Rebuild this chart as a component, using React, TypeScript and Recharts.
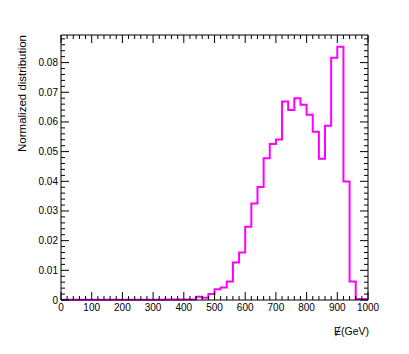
import React from 'react';
import { ComposedChart, Line, XAxis, YAxis } from 'recharts';

// bin low edges (GeV), 20 GeV wide
const binEdges = [
  0, 20, 40, 60, 80, 100, 120, 140, 160, 180,
  200, 220, 240, 260, 280, 300, 320, 340, 360, 380,
  400, 420, 440, 460, 480, 500, 520, 540, 560, 580,
  600, 620, 640, 660, 680, 700, 720, 740, 760, 780,
  800, 820, 840, 860, 880, 900, 920, 940, 960, 980, 1000,
];

// normalized bin contents (last entry repeats the final bin to close the step)
const binValues = [
  0.00005, 0.00005, 0.00005, 0.00005, 0.00005, 0.00005, 0.00005, 0.00005, 0.00005, 0.00005,
  0.00005, 0.00005, 0.00005, 0.00005, 0.00005, 0.00005, 0.0001, 0.0002, 0.0002, 0.0002,
  0.0002, 0.0002, 0.0011, 0.0008, 0.002, 0.0036, 0.0042, 0.0062, 0.0126, 0.016,
  0.0247, 0.0325, 0.0381, 0.0478, 0.0526, 0.0541, 0.0669, 0.064, 0.068, 0.0658,
  0.0624, 0.0567, 0.0476, 0.0587, 0.0816, 0.0853, 0.0399, 0.0062, 0.0003, 0.0003, 0.0003,
];

const xMajorTicks = [0, 100, 200, 300, 400, 500, 600, 700, 800, 900, 1000];
const xTickLabels = ['0', '100', '200', '300', '400', '500', '600', '700', '800', '900', '1000'];
const yMajorTicks = [0, 0.01, 0.02, 0.03, 0.04, 0.05, 0.06, 0.07, 0.08];
const yTickLabels = ['0', '0.01', '0.02', '0.03', '0.04', '0.05', '0.06', '0.07', '0.08'];

const data = binEdges.map((x, i) => ({ x, y: binValues[i] }));

const xTicks: number[] = [];
for (let i = 0; i <= 50; i++) xTicks.push(i * 20);
const yTicks: number[] = [];
for (let i = 0; i <= 44; i++) yTicks.push(Math.round(i * 2) / 1000);

const isMajorX = (v: number) => xMajorTicks.indexOf(v) >= 0;
const isMajorY = (v: number) => yMajorTicks.some((m) => Math.abs(m - v) < 1e-9);

const font = 'Liberation Sans, Arial, Helvetica, sans-serif';

const BottomTick = (props: any) => {
  const { x, y, payload } = props;
  const major = isMajorX(payload.value);
  const idx = xMajorTicks.indexOf(payload.value);
  return (
    <g>
      <line x1={x} x2={x} y1={y} y2={y - (major ? 8 : 4)} stroke="#000" />
      {major && (
        <text x={x} y={y + 11} textAnchor="middle" fontSize={10} fontFamily={font} fill="#000">
          {xTickLabels[idx]}
        </text>
      )}
    </g>
  );
};

const TopTick = (props: any) => {
  const { x, y, payload } = props;
  const major = isMajorX(payload.value);
  return <line x1={x} x2={x} y1={y} y2={y + (major ? 8 : 4)} stroke="#000" />;
};

const LeftTick = (props: any) => {
  const { x, y, payload } = props;
  const major = isMajorY(payload.value);
  const idx = yMajorTicks.findIndex((m) => Math.abs(m - payload.value) < 1e-9);
  return (
    <g>
      <line x1={x} x2={x + (major ? 8 : 4)} y1={y} y2={y} stroke="#000" />
      {major && (
        <text x={x - 3} y={y + 3.5} textAnchor="end" fontSize={10} fontFamily={font} fill="#000">
          {yTickLabels[idx]}
        </text>
      )}
    </g>
  );
};

const RightTick = (props: any) => {
  const { x, y, payload } = props;
  const major = isMajorY(payload.value);
  return <line x1={x} x2={x - (major ? 8 : 4)} y1={y} y2={y} stroke="#000" />;
};

export default function App() {
  return (
    <div style={{ position: 'absolute', left: 0, top: 0, width: 409, height: 354, background: '#fff' }}>
      <ComposedChart width={409} height={354} data={data} margin={{ top: 0, right: 0, bottom: 0, left: 0 }}>
        <XAxis
          xAxisId="bottom"
          dataKey="x"
          type="number"
          domain={[0, 1000]}
          ticks={xTicks}
          interval={0}
          height={54}
          tickSize={0}
          tickMargin={0}
          tickLine={false}
          axisLine={{ stroke: '#000' }}
          tick={<BottomTick />}
        />
        <XAxis
          xAxisId="top"
          dataKey="x"
          orientation="top"
          type="number"
          domain={[0, 1000]}
          ticks={xTicks}
          interval={0}
          height={35}
          tickSize={0}
          tickMargin={0}
          tickLine={false}
          axisLine={{ stroke: '#000' }}
          tick={<TopTick />}
        />
        <YAxis
          yAxisId="left"
          type="number"
          domain={[0, 0.0893]}
          ticks={yTicks}
          interval={0}
          width={61}
          tickSize={0}
          tickMargin={0}
          tickLine={false}
          axisLine={{ stroke: '#000' }}
          tick={<LeftTick />}
        />
        <YAxis
          yAxisId="right"
          orientation="right"
          type="number"
          domain={[0, 0.0893]}
          ticks={yTicks}
          interval={0}
          width={41}
          tickSize={0}
          tickMargin={0}
          tickLine={false}
          axisLine={{ stroke: '#000' }}
          tick={<RightTick />}
        />
        <Line
          xAxisId="top"
          yAxisId="right"
          dataKey="y"
          type="stepAfter"
          stroke="none"
          dot={false}
          isAnimationActive={false}
        />
        <Line
          xAxisId="bottom"
          yAxisId="left"
          dataKey="y"
          type="stepAfter"
          stroke="#ff00ff"
          strokeWidth={2}
          dot={false}
          isAnimationActive={false}
        />
        <text
          x={26}
          y={35}
          transform="rotate(-90 26 35)"
          textAnchor="end"
          fontSize={11.5}
          fontFamily={font}
          fill="#000"
        >
          Normalized distribution
        </text>
        <text x={369} y={335} textAnchor="end" fontSize={10.5} fontFamily={font} fill="#000">
          Ɇ(GeV)
        </text>
      </ComposedChart>
    </div>
  );
}
